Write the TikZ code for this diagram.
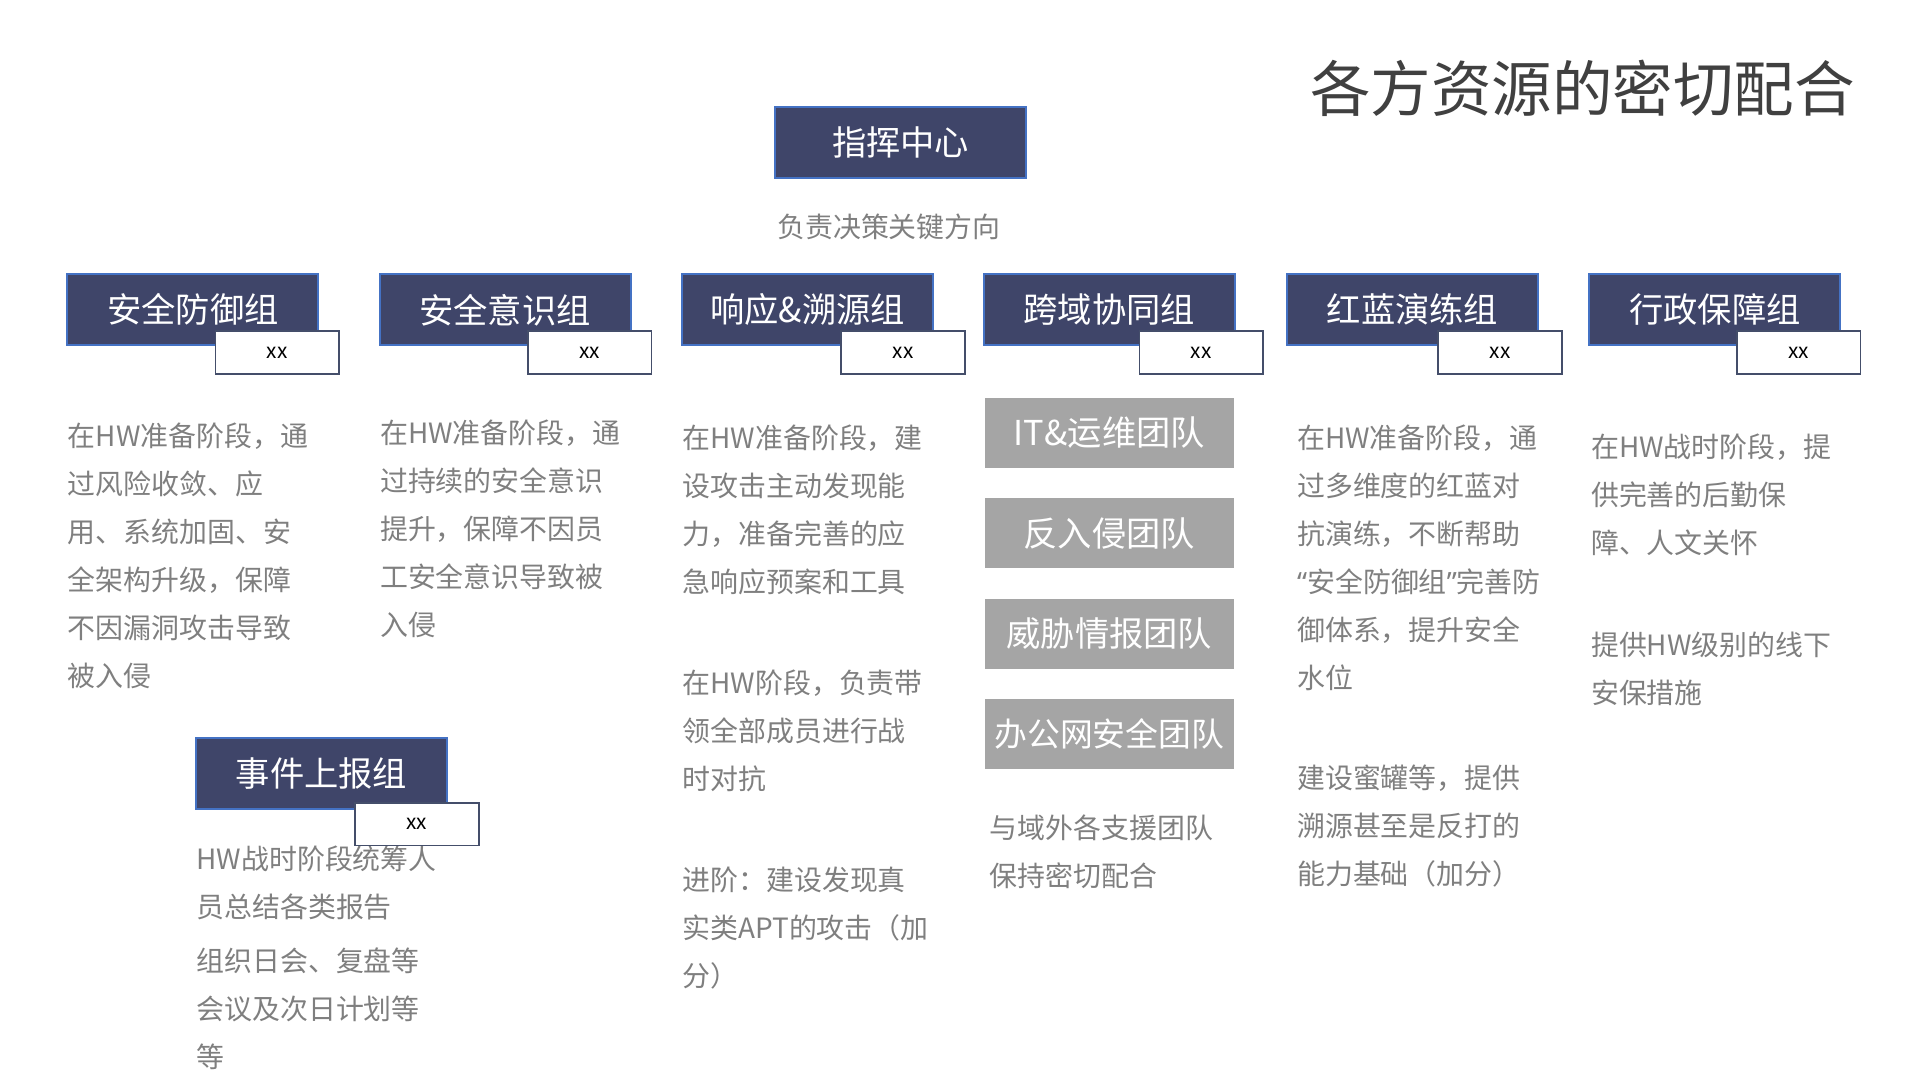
\documentclass[tikz,border=0pt]{standalone}
\usepackage{fontspec}
\setmainfont{Noto Sans CJK SC}
\newfontfamily\latinq{Noto Sans}
\definecolor{navy}{RGB}{63,69,105}
\definecolor{bordblue}{RGB}{68,114,196}
\definecolor{teamgray}{RGB}{165,165,165}
\definecolor{bodygray}{RGB}{127,127,127}
\definecolor{titlegray}{RGB}{64,64,64}
\definecolor{smallbord}{RGB}{68,78,106}
\newcommand\mypara[4]{%
  \foreach \t [count=\i] in {#4} {%
    \node[bodytext] (#1-\i) at (#2, {#3+(\i-1)*39.2}) {\t};%
  }%
}
\begin{document}
\begin{tikzpicture}[x=0.5pt,y=-0.5pt,
  groupbox/.style={draw=bordblue, line width=0.8pt, fill=navy, text=white,
    font=\fontsize{14}{16}\selectfont, minimum width=102.5pt, minimum height=29pt, inner sep=0pt},
  tagbox/.style={draw=smallbord, line width=0.7pt, fill=white,
    font=\fontsize{8.5}{10}\selectfont, minimum width=50.5pt, minimum height=17.5pt, inner sep=0pt},
  teambox/.style={fill=teamgray, text=white, font=\fontsize{14}{16}\selectfont,
    minimum width=102pt, minimum height=28.5pt, inner sep=0pt},
  bodytext/.style={text=bodygray, font=\fontsize{11.4}{13}\selectfont, anchor=base west, inner sep=0pt},
]
\useasboundingbox (0,0) rectangle (1568,882);

% title
\node[text=titlegray, font=\fontsize{24.7}{28}\selectfont, inner sep=0pt] (title) at (1292.5,72) {各方资源的密切配合};

% command centre
\node[groupbox] (cmd) at (735.5,116) {指挥中心};
\node[text=bodygray, font=\fontsize{11.4}{13}\selectfont, inner sep=0pt] (cmdtxt) at (726,185) {负责决策关键方向};

% groups
\node[groupbox] (g1) at (157.5,253) {安全防御组};
\node[groupbox] (g2) at (412.5,253) {安全意识组};
\node[groupbox] (g3) at (659.5,253) {响应\&溯源组};
\node[groupbox] (g4) at (906,253) {跨域协同组};
\node[groupbox] (g5) at (1153.5,253) {红蓝演练组};
\node[groupbox] (g6) at (1400.5,253) {行政保障组};

\node[tagbox] (t1) at (226.5,288) {xx};
\node[tagbox] (t2) at (481.5,288) {xx};
\node[tagbox] (t3) at (737.5,288) {xx};
\node[tagbox] (t4) at (981,288) {xx};
\node[tagbox] (t5) at (1225,288) {xx};
\node[tagbox] (t6) at (1469,288) {xx};

% team boxes
\node[teambox] (team1) at (906,353.5) {IT\&运维团队};
\node[teambox] (team2) at (906,435.5) {反入侵团队};
\node[teambox] (team3) at (906,517.5) {威胁情报团队};
\node[teambox, font=\fontsize{13.4}{16}\selectfont] (team4) at (906,599.5) {办公网安全团队};

% column texts
\mypara{c1a}{55}{365}{在HW准备阶段，通,过风险收敛、应,用、系统加固、安,全架构升级，保障,不因漏洞攻击导致,被入侵}
\mypara{c2a}{310}{362}{在HW准备阶段，通,过持续的安全意识,提升，保障不因员,工安全意识导致被,入侵}
\mypara{c3a}{557}{366}{在HW准备阶段，建,设攻击主动发现能,力，准备完善的应,急响应预案和工具}
\mypara{c3b}{557}{566}{在HW阶段，负责带,领全部成员进行战,时对抗}
\mypara{c3c}{557}{727}{进阶：建设发现真,实类APT的攻击（加,分）}
\mypara{c4a}{808}{685}{与域外各支援团队,保持密切配合}
\mypara{c5a}{1059}{366}{在HW准备阶段，通,过多维度的红蓝对,抗演练，不断帮助,{\latinq “}安全防御组{\latinq ”}完善防,御体系，提升安全,水位}
\mypara{c5b}{1059}{644}{建设蜜罐等，提供,溯源甚至是反打的,能力基础（加分）}
\mypara{c6a}{1299}{374}{在HW战时阶段，提,供完善的后勤保,障、人文关怀}
\mypara{c6b}{1299}{535}{提供HW级别的线下,安保措施}

% event group
\mypara{eva}{160}{710}{HW战时阶段统筹人,员总结各类报告}
\mypara{evb}{160}{793}{组织日会、复盘等,会议及次日计划等,等}
\node[groupbox] (g7) at (262.5,632) {事件上报组};
\node[tagbox] (t7) at (340.5,673) {xx};
\end{tikzpicture}
\end{document}
